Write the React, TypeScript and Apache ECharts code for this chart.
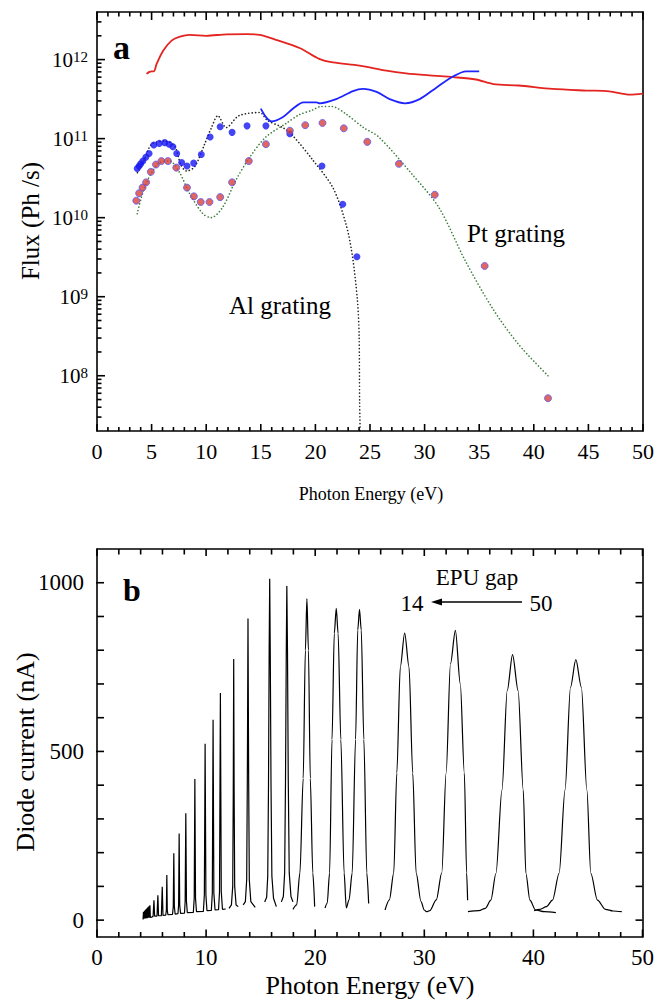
import React, { useEffect, useRef } from 'react';
import * as echarts from 'echarts';

const FONT = "'Liberation Serif', 'Times New Roman', serif";

// ---------- Panel a (log flux) ----------
const redLine: [number, number][] = [
  [4.54, 6.6e11], [4.8, 7.0e11], [5.0, 7.1e11], [5.2, 7.1e11], [5.46, 8.8e11], [6.07, 1.3e12],
  [6.83, 1.74e12], [7.6, 1.95e12], [8.5, 2.05e12], [10.0, 2.0e12], [11.87, 2.09e12], [13.7, 2.1e12],
  [14.9, 2.05e12], [16.4, 1.78e12], [18.6, 1.39e12], [20.35, 1.02e12], [21.6, 9.2e11], [24.06, 8.4e11],
  [26.5, 7.25e11], [28.3, 6.7e11], [30.5, 6.3e11], [32.6, 6.0e11], [34.7, 5.6e11], [36.3, 4.9e11],
  [38.6, 4.7e11], [41.7, 4.25e11], [44.8, 4.06e11], [46.9, 3.97e11], [48.8, 3.6e11], [50, 3.7e11],
];

const blueLine: [number, number][] = [
  [15.0, 2.4e11], [15.5, 1.86e11], [16.0, 1.65e11], [17.0, 1.86e11], [17.96, 2.4e11], [18.9, 2.88e11],
  [20.1, 2.88e11], [20.4, 2.8e11], [21.9, 3.16e11], [23.45, 4.0e11], [24.36, 4.25e11], [25.6, 3.9e11],
  [26.8, 3.16e11], [28.2, 2.8e11], [29.55, 3.16e11], [31.1, 4.45e11], [32.6, 6.1e11], [33.8, 7.1e11],
  [35.0, 7.1e11],
];

const blueDots: [number, number][] = [
  [3.68, 4.2e10], [3.86, 4.5e10], [4.0, 4.8e10], [4.2, 5.2e10], [4.47, 5.8e10], [4.77, 6.5e10],
  [5.2, 8.3e10], [5.7, 8.7e10], [6.2, 8.9e10], [6.6, 8.5e10], [6.95, 7.9e10], [7.3, 6.5e10],
  [7.75, 5.0e10], [8.24, 4.5e10], [8.85, 4.9e10], [9.55, 6.3e10], [10.36, 1.05e11], [11.28, 1.41e11],
  [12.37, 1.2e11], [13.74, 1.45e11], [15.47, 1.45e11], [17.66, 1.15e11], [20.6, 4.5e10], [22.5, 1.48e10],
  [23.8, 3.2e9],
];

const redDots: [number, number][] = [
  [3.6, 1.64e10], [3.86, 2.04e10], [4.17, 2.4e10], [4.5, 2.8e10], [4.93, 3.8e10], [5.4, 4.7e10],
  [5.9, 5.2e10], [6.5, 5.2e10], [7.26, 4.3e10], [8.24, 2.4e10], [8.87, 1.86e10], [9.5, 1.58e10],
  [10.3, 1.58e10], [11.28, 1.82e10], [12.37, 2.8e10], [13.9, 5.2e10], [15.47, 8.5e10], [17.66, 1.26e11],
  [19.07, 1.48e11], [20.65, 1.58e11], [22.6, 1.35e11], [24.75, 9.1e10], [27.65, 4.8e10], [30.93, 1.95e10],
  [35.5, 2.45e9], [41.3, 5.2e7],
];

const alCalc: [number, number][] = [
  [3.7, 3.7e10], [4.24, 5.0e10], [5.0, 8.5e10], [6.2, 9.3e10], [7.1, 8.1e10], [7.7, 4.6e10],
  [8.2, 3.9e10], [8.94, 4.4e10], [9.85, 8.5e10], [10.5, 1.4e11], [11.07, 1.95e11], [11.83, 1.38e11],
  [13.0, 1.95e11], [14.9, 2.14e11], [15.6, 1.7e11], [17.0, 1.38e11], [17.9, 1.1e11], [19.7, 5.5e10],
  [21.6, 2.4e10], [22.8, 8.3e9], [23.4, 3.2e9], [23.85, 8.9e8], [24.0, 3.4e8], [24.05, 4.8e7], [24.1, 2e7],
];

const ptCalc: [number, number][] = [
  [3.68, 1.12e10], [4.07, 1.82e10], [4.5, 2.7e10], [5.0, 3.7e10], [5.75, 5.0e10], [6.66, 5.2e10],
  [7.57, 3.7e10], [8.5, 2.0e10], [9.7, 1.12e10], [10.45, 1.0e10], [11.5, 1.35e10], [12.7, 2.95e10],
  [13.96, 5.75e10], [15.47, 1.05e11], [17.3, 1.55e11], [18.5, 2.0e11], [19.74, 2.3e11], [20.5, 2.55e11],
  [21.5, 2.55e11], [22.8, 2.05e11], [24.4, 1.38e11], [25.8, 1.05e11], [28.85, 3.55e10], [31.3, 1.35e10],
  [33.7, 2.9e9], [36.2, 7.2e8], [38.6, 2.5e8], [41.3, 1.0e8],
];

const X_MIN = 0;
const X_MAX = 50;
const X_A_MAJOR = [0, 5, 10, 15, 20, 25, 30, 35, 40, 45, 50];
const X_A_MINOR = Array.from({ length: 51 }, (_, i) => i).filter((i) => i % 5 !== 0);
const Y_A_MIN = 2e7;
const Y_A_MAX = 4e12;
const Y_A_MAJOR = [1e8, 1e9, 1e10, 1e11, 1e12];
const LOG_DECADES = [7, 8, 9, 10, 11, 12];
const LOG_MANTISSAS = [2, 3, 4, 5, 6, 7, 8, 9];
const Y_A_MINOR = LOG_DECADES.flatMap((d) => LOG_MANTISSAS.map((m) => m * Math.pow(10, d))).filter(
  (v) => v > Y_A_MIN && v < Y_A_MAX
);

// ---------- Panel b (diode current scans) ----------
const scanLow: [number, number][] = [
  [4.22, 2], [4.26, 24], [4.29, 4], [4.34, 27], [4.37, 5], [4.42, 30], [4.45, 5], [4.5, 33], [4.53, 6],
  [4.58, 35], [4.61, 6], [4.66, 38], [4.69, 7], [4.75, 41], [4.78, 7], [4.85, 44], [4.89, 8], [5.0, 9],
  [5.14, 11], [5.22, 59], [5.28, 12], [5.5, 12], [5.58, 74], [5.64, 13], [5.9, 13], [5.98, 99], [6.05, 14],
  [6.3, 15], [6.36, 30], [6.4, 134], [6.44, 30], [6.5, 16], [6.92, 17], [6.99, 40], [7.04, 198], [7.09, 40],
  [7.16, 18], [7.42, 19], [7.48, 45], [7.53, 257], [7.58, 45], [7.66, 20], [8.02, 21], [8.08, 55], [8.14, 317],
  [8.2, 55], [8.28, 22], [8.83, 23], [8.91, 65], [8.97, 418], [9.03, 65], [9.12, 25], [9.75, 26], [9.84, 75],
  [9.91, 523], [9.98, 75], [10.08, 28], [10.48, 29], [10.57, 80], [10.64, 594], [10.71, 80], [10.82, 30],
  [11.14, 31], [11.23, 85], [11.31, 673], [11.39, 85], [11.5, 32], [11.8, 33],
];
const scan1253: [number, number][] = [
  [12.1, 35], [12.32, 45], [12.44, 100], [12.49, 380], [12.53, 774], [12.57, 380], [12.62, 100], [12.75, 45], [12.95, 40],
];
const scan1384: [number, number][] = [
  [13.4, 45], [13.6, 55], [13.72, 120], [13.78, 420], [13.84, 894], [13.9, 420], [13.96, 120], [14.1, 55], [14.5, 38],
];
const scan1583: [number, number][] = [
  [15.37, 54], [15.55, 68], [15.65, 130], [15.72, 400], [15.78, 800], [15.83, 1012], [15.88, 800], [15.95, 400],
  [16.03, 130], [16.18, 65], [16.44, 40],
];
const scan1740: [number, number][] = [
  [16.9, 54], [17.08, 70], [17.2, 140], [17.28, 420], [17.35, 800], [17.4, 990], [17.46, 800], [17.53, 420],
  [17.62, 140], [17.78, 70], [17.96, 54],
];
const scan1924: [number, number][] = [
  [17.96, 32], [18.3, 45], [18.6, 140], [18.9, 420], [19.1, 800], [19.24, 953], [19.38, 800], [19.55, 420],
  [19.78, 140], [19.95, 40],
];
const scan2193: [number, number][] = [
  [20.9, 36], [21.1, 50], [21.32, 140], [21.54, 535], [21.75, 850], [21.93, 924], [22.1, 850], [22.35, 535],
  [22.65, 140], [22.85, 36], [23.1, 60], [23.39, 140], [23.7, 535], [23.9, 860], [24.06, 921], [24.22, 860],
  [24.46, 535], [24.73, 140], [24.9, 49],
];
const scan2820: [number, number][] = [
  [26.4, 30], [26.8, 60], [27.2, 140], [27.48, 436], [27.8, 750], [28.2, 851], [28.6, 750], [28.94, 436],
  [29.25, 140], [29.7, 55], [30.0, 30], [30.2, 25], [30.5, 28], [31.1, 60], [31.6, 140], [32.0, 436],
  [32.4, 760], [32.85, 859], [33.3, 700], [33.67, 436], [33.88, 140], [33.97, 59],
];
const scan3809: [number, number][] = [
  [34.0, 25], [35.0, 28], [35.6, 35], [36.1, 59], [36.57, 139], [37.12, 386], [37.6, 680], [38.09, 787],
  [38.6, 680], [39.07, 386], [39.31, 139], [39.68, 59], [40.2, 30], [41.0, 25], [42.06, 22],
];
const scan4389: [number, number][] = [
  [40.07, 28], [40.6, 32], [41.2, 40], [41.75, 59], [42.36, 139], [42.9, 386], [43.4, 690], [43.89, 772],
  [44.4, 690], [44.9, 386], [45.26, 139], [45.87, 59], [46.6, 32], [47.3, 27], [48.1, 25],
];
const narrowScans = [scanLow, scan1253, scan1384, scan1583, scan1740];
const wideScans = [scan1924, scan2193, scan2820, scan3809, scan4389];

const X_B_MAJOR = [0, 10, 20, 30, 40, 50];
const X_B_MINOR = [2, 4, 6, 8, 12, 14, 16, 18, 22, 24, 26, 28, 32, 34, 36, 38, 42, 44, 46, 48];
const Y_B_MIN = -50;
const Y_B_MAX = 1100;
const Y_B_MAJOR = [0, 500, 1000];
const Y_B_MINOR = [0, 100, 200, 300, 400, 500, 600, 700, 800, 900, 1000];

const black = '#000';

// grid geometry (pixels)
const GA = { left: 97, right: 12, top: 12, height: 419 };
const GB = { left: 97, right: 14, top: 549, height: 388 };
const W = 657;
const PX_EV_A = (W - GA.left - GA.right) / (X_MAX - X_MIN);
const PX_DEC_A = GA.height / Math.log10(Y_A_MAX / Y_A_MIN);
const PX_EV_B = (W - GB.left - GB.right) / (X_MAX - X_MIN);
const PX_NA_B = GB.height / (Y_B_MAX - Y_B_MIN);

// tick segments in data space (length given in pixels, converted with the axis scale factor)
type Seg = [[number, number], [number, number]];
const ticksA: Seg[] = [
  ...X_A_MAJOR.map((x): Seg => [[x, Y_A_MIN], [x, Y_A_MIN * Math.pow(10, 7 / PX_DEC_A)]]),
  ...X_A_MINOR.map((x): Seg => [[x, Y_A_MIN], [x, Y_A_MIN * Math.pow(10, 4 / PX_DEC_A)]]),
  ...X_A_MAJOR.map((x): Seg => [[x, Y_A_MAX], [x, Y_A_MAX / Math.pow(10, 8 / PX_DEC_A)]]),
  ...X_A_MINOR.map((x): Seg => [[x, Y_A_MAX], [x, Y_A_MAX / Math.pow(10, 4.5 / PX_DEC_A)]]),
  ...Y_A_MAJOR.map((v): Seg => [[X_MIN, v], [X_MIN + 8 / PX_EV_A, v]]),
  ...Y_A_MINOR.map((v): Seg => [[X_MIN, v], [X_MIN + 4.5 / PX_EV_A, v]]),
];
const ticksB: Seg[] = [
  ...X_B_MAJOR.map((x): Seg => [[x, Y_B_MIN], [x, Y_B_MIN + 7.5 / PX_NA_B]]),
  ...X_B_MINOR.map((x): Seg => [[x, Y_B_MIN], [x, Y_B_MIN + 5 / PX_NA_B]]),
  ...X_B_MAJOR.map((x): Seg => [[x, Y_B_MAX], [x, Y_B_MAX - 7 / PX_NA_B]]),
  ...X_B_MINOR.map((x): Seg => [[x, Y_B_MAX], [x, Y_B_MAX - 5.5 / PX_NA_B]]),
  ...Y_B_MAJOR.map((v): Seg => [[X_MIN - 8 / PX_EV_B, v], [X_MIN, v]]),
  ...Y_B_MINOR.map((v): Seg => [[X_MIN, v], [X_MIN + 7 / PX_EV_B, v]]),
  ...Y_B_MINOR.map((v): Seg => [[X_MAX, v], [X_MAX - 7 / PX_EV_B, v]]),
];

function xAxisCfg(gridIndex: number, position: 'top' | 'bottom', interval: number, labels: boolean, fontSize: number) {
  return {
    type: 'value', gridIndex, position, min: X_MIN, max: X_MAX, interval,
    axisLine: { show: true, onZero: false, lineStyle: { color: black, width: 1.6 } },
    axisTick: { show: false },
    minorTick: { show: false },
    axisLabel: { show: labels, color: black, fontSize, fontFamily: FONT, margin: 9 },
    splitLine: { show: false },
  };
}

const txt = (text: string, x: number, y: number, fontSize: number, extra: any = {}) => ({
  type: 'text', x, y, rotation: extra.rotation || 0, z: 20,
  style: {
    text, fontSize, fontFamily: FONT, fontWeight: extra.bold ? 'bold' : 'normal', fill: black,
    textAlign: extra.align || 'center', textVerticalAlign: 'middle',
  },
});

const tickSeries = (segs: Seg[], xAxisIndex: number, yAxisIndex: number, prefix: string) =>
  segs.map((s, i) => ({
    name: prefix + i, type: 'line', xAxisIndex, yAxisIndex, data: s, showSymbol: false, symbol: 'none',
    lineStyle: { color: black, width: 1.6 }, clip: false, silent: true, z: 6,
  }));

export default function App() {
  const ref = useRef<HTMLDivElement>(null);
  useEffect(() => {
    if (!ref.current) return;
    const chart = echarts.init(ref.current, undefined, { renderer: 'svg' });
    const dotted = { type: [0.1, 3.3], cap: 'round' };
    const lineSeries = (name: string, data: [number, number][], color: string, width: number, extra: any = {}) => ({
      name, type: 'line', xAxisIndex: 0, yAxisIndex: 0, data, showSymbol: false, symbol: 'none',
      lineStyle: { color, width, ...(extra.lineStyle || {}) }, smooth: extra.smooth ?? 0.3, z: extra.z ?? 2,
    });
    const option: any = {
      animation: false,
      textStyle: { fontFamily: FONT },
      grid: [GA, GB],
      xAxis: [
        xAxisCfg(0, 'bottom', 5, true, 22),
        xAxisCfg(0, 'top', 5, false, 22),
        xAxisCfg(1, 'bottom', 10, true, 23),
        xAxisCfg(1, 'top', 10, false, 23),
      ],
      yAxis: [
        {
          type: 'log', logBase: 10, gridIndex: 0, position: 'left', min: Y_A_MIN, max: Y_A_MAX,
          axisLine: { show: true, onZero: false, lineStyle: { color: black, width: 1.6 } },
          axisTick: { show: false }, minorTick: { show: false },
          axisLabel: {
            show: true, customValues: Y_A_MAJOR, margin: 9,
            formatter: (v: number) => `{b|10}{s|${Math.round(Math.log10(v))}}`,
            rich: {
              b: { fontSize: 21, fontFamily: FONT, color: black, lineHeight: 21, verticalAlign: 'bottom' },
              s: { fontSize: 15, fontFamily: FONT, color: black, lineHeight: 15, verticalAlign: 'top' },
            },
          },
          splitLine: { show: false },
        },
        {
          type: 'log', logBase: 10, gridIndex: 0, position: 'right', min: Y_A_MIN, max: Y_A_MAX,
          axisLine: { show: true, onZero: false, lineStyle: { color: black, width: 1.6 } },
          axisTick: { show: false }, axisLabel: { show: false }, splitLine: { show: false },
        },
        {
          type: 'value', gridIndex: 1, position: 'left', min: Y_B_MIN, max: Y_B_MAX,
          axisLine: { show: true, onZero: false, lineStyle: { color: black, width: 1.6 } },
          axisTick: { show: false },
          axisLabel: {
            show: true, customValues: Y_B_MAJOR, color: black, fontSize: 23, fontFamily: FONT, margin: 13,
            formatter: (v: number) => String(v),
          },
          splitLine: { show: false },
        },
        {
          type: 'value', gridIndex: 1, position: 'right', min: Y_B_MIN, max: Y_B_MAX,
          axisLine: { show: true, onZero: false, lineStyle: { color: black, width: 1.6 } },
          axisTick: { show: false }, axisLabel: { show: false }, splitLine: { show: false },
        },
      ],
      series: [
        lineSeries('Pt grating calc', ptCalc, '#3b7d3b', 1.6, { lineStyle: dotted, z: 1 }),
        lineSeries('Al grating calc', alCalc, '#222222', 1.6, { lineStyle: dotted, z: 1 }),
        lineSeries('Flux red', redLine, '#e32420', 1.8),
        lineSeries('Flux blue', blueLine, '#1f24ff', 1.8),
        {
          name: 'Al grating', type: 'scatter', xAxisIndex: 0, yAxisIndex: 0, data: blueDots, symbolSize: 7,
          itemStyle: { color: '#1616f2' }, z: 3,
        },
        {
          name: 'Pt grating', type: 'scatter', xAxisIndex: 0, yAxisIndex: 0, data: redDots, symbolSize: 7,
          itemStyle: { color: '#d9403a', borderColor: '#5b5bf2', borderWidth: 1 }, z: 4,
        },
        ...narrowScans.map((d, i) => ({
          name: 'scanN' + i, type: 'line', xAxisIndex: 2, yAxisIndex: 2, data: d, showSymbol: false, symbol: 'none',
          lineStyle: { color: black, width: 1.2 }, smooth: false,
        })),
        ...wideScans.map((d, i) => ({
          name: 'scanW' + i, type: 'line', xAxisIndex: 2, yAxisIndex: 2, data: d, showSymbol: false, symbol: 'none',
          lineStyle: { color: black, width: 1.2 }, smooth: 0.3, smoothMonotone: 'x',
        })),
        ...tickSeries(ticksA, 0, 0, 'tickA'),
        ...tickSeries(ticksB, 2, 2, 'tickB'),
      ],
      graphic: [
        txt('a', 113, 47, 34, { bold: true, align: 'left' }),
        txt('Al grating', 280, 305, 25),
        txt('Pt grating', 516, 233, 25),
        txt('Flux (Ph /s)', 30, 221, 25, { rotation: Math.PI / 2 }),
        txt('Photon Energy (eV)', 371, 494, 18),
        txt('b', 123, 590, 32, { bold: true, align: 'left' }),
        txt('EPU gap', 477, 577, 23),
        txt('14', 412, 603, 23),
        txt('50', 541, 603, 23),
        { type: 'line', shape: { x1: 522, y1: 602, x2: 438, y2: 602 }, style: { stroke: black, lineWidth: 1.6 } },
        { type: 'polygon', shape: { points: [[431, 602], [442, 598.5], [442, 605.5]] }, style: { fill: black } },
        txt('Diode current (nA)', 25, 752, 26, { rotation: Math.PI / 2 }),
        txt('Photon Energy (eV)', 370, 985, 26),
      ],
    };
    chart.setOption(option);
    return () => chart.dispose();
  }, []);
  return <div ref={ref} style={{ position: 'absolute', left: 0, top: 0, width: 657, height: 1005, background: '#fff' }} />;
}
